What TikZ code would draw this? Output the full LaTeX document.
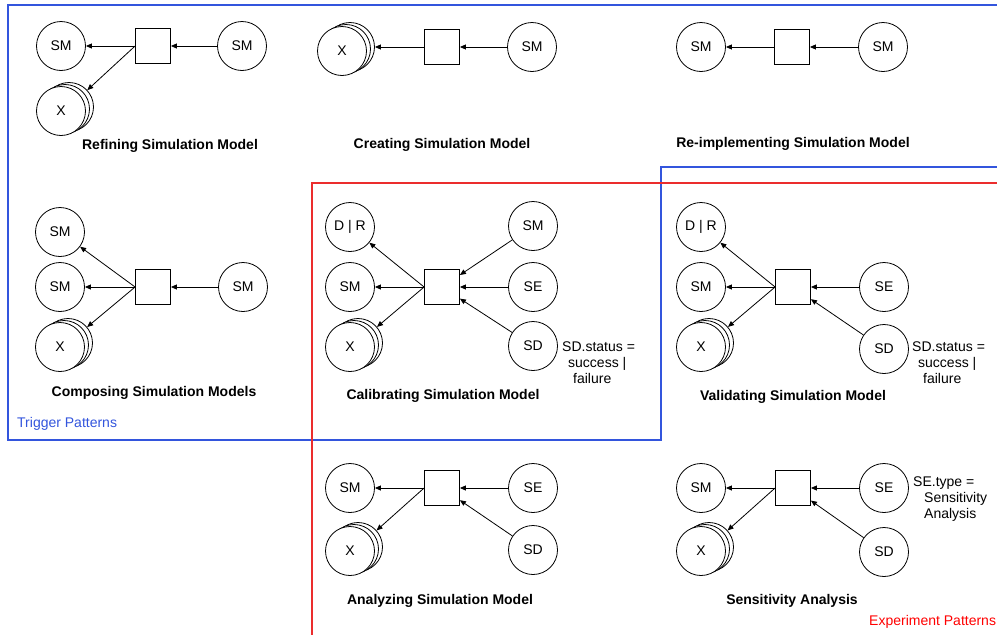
\documentclass[tikz,border=0pt]{standalone}
\usepackage{fontspec}
\setmainfont{Liberation Sans}
\usetikzlibrary{arrows.meta}
\definecolor{trigblue}{RGB}{51,85,221}
\definecolor{exred}{RGB}{235,45,45}
\newcommand{\mystack}[3]{%
  \node[ent] (#1r) at (#2+8,#3-4) {};
  \node[ent] (#1m) at (#2+4,#3-2) {};
  \node[ent] (#1) at (#2,#3) {X};
}
\tikzset{
  ent/.style={circle, draw, fill=white, minimum size=49pt, inner sep=0pt, line width=0.8pt, font=\fontsize{14}{16}\selectfont},
  proc/.style={rectangle, draw, fill=white, minimum size=35pt, inner sep=0pt, line width=0.8pt},
  flow/.style={-{Triangle[length=6pt,width=5pt]}, line width=0.8pt},
  ttl/.style={font=\fontsize{14}{16}\selectfont\bfseries, inner sep=0pt},
  note/.style={font=\fontsize{14}{16}\selectfont, align=left, anchor=north west, inner sep=0pt},
  frame/.style={line width=1.3pt}
}
\begin{document}
\begin{tikzpicture}[x=1pt,y=-1pt]
\useasboundingbox (0,0) rectangle (997,635);
\fill[white] (0,0) rectangle (997,635);

% frames
\draw[frame, trigblue] (1010,5) -- (8,5) -- (8,440) -- (661,440) -- (661,167) -- (1010,167);
\draw[frame, exred] (1010,183) -- (312,183) -- (312,650);
\node[font=\fontsize{14}{16}\selectfont, text=trigblue, anchor=west, inner sep=0pt] (trig) at (17,424) {Trigger Patterns};
\node[font=\fontsize{14}{16}\selectfont, text=red, anchor=west, inner sep=0pt] (expt) at (869,622) {Experiment Patterns};

% Panel 1: Refining
\node[ent] (smA) at (61,46) {SM};
\node[proc] (sqA) at (153,46) {};
\node[ent] (smA2) at (242,46) {SM};
\mystack{xA}{61}{111}
\draw[flow] (sqA.west) -- (smA);
\draw[flow] (sqA.west) -- (xAr);
\draw[flow] (smA2) -- (sqA);
\node[ttl] (tA) at (170,146) {Refining Simulation Model};

% Panel 2: Creating
\mystack{xB}{342}{51}
\node[proc] (sqB) at (442,47) {};
\node[ent] (smB) at (532,47) {SM};
\draw[flow] (sqB.west) -- (xBr);
\draw[flow] (smB) -- (sqB);
\node[ttl] (tB) at (442,145) {Creating Simulation Model};

% Panel 3: Re-implementing
\node[ent] (smC1) at (701,47) {SM};
\node[proc] (sqC) at (792,47) {};
\node[ent] (smC2) at (883,47) {SM};
\draw[flow] (sqC.west) -- (smC1);
\draw[flow] (smC2) -- (sqC);
\node[ttl] (tC) at (793,144) {Re-implementing Simulation Model};

% Panel 4: Composing
\node[ent] (smD1) at (60,232) {SM};
\node[ent] (smD2) at (60,287) {SM};
\mystack{xD}{60}{347}
\node[proc] (sqD) at (153,287) {};
\node[ent] (smD3) at (243,287) {SM};
\draw[flow] (sqD.west) -- (smD1);
\draw[flow] (sqD.west) -- (smD2);
\draw[flow] (sqD.west) -- (xDr);
\draw[flow] (smD3) -- (sqD);
\node[ttl] (tD) at (154,393) {Composing Simulation Models};

% Panel 5: Calibrating
\node[ent] (drE) at (350,227) {D | R};
\node[ent] (smE) at (350,287) {SM};
\mystack{xE}{350}{347}
\node[proc] (sqE) at (442,287) {};
\node[ent] (smE2) at (533,226) {SM};
\node[ent] (seE) at (533,287) {SE};
\node[ent] (sdE) at (533,346) {SD};
\draw[flow] (sqE.west) -- (drE);
\draw[flow] (sqE.west) -- (smE);
\draw[flow] (sqE.west) -- (xEr);
\draw[flow] (smE2) -- (sqE);
\draw[flow] (seE) -- (sqE);
\draw[flow] (sdE) -- (sqE);
\node[note] (nE) at (562,342) {SD.status =\\\hspace*{6pt}success |\\\hspace*{11pt}failure};
\node[ttl] (tE) at (443,396) {Calibrating Simulation Model};

% Panel 6: Validating
\node[ent] (drF) at (701,227) {D | R};
\node[ent] (smF) at (701,287) {SM};
\mystack{xF}{701}{347}
\node[proc] (sqF) at (793,287) {};
\node[ent] (seF) at (884,287) {SE};
\node[ent] (sdF) at (884,349) {SD};
\draw[flow] (sqF.west) -- (drF);
\draw[flow] (sqF.west) -- (smF);
\draw[flow] (sqF.west) -- (xFr);
\draw[flow] (seF) -- (sqF);
\draw[flow] (sdF) -- (sqF);
\node[note] (nF) at (912,342) {SD.status =\\\hspace*{6pt}success |\\\hspace*{11pt}failure};
\node[ttl] (tF) at (793,397) {Validating Simulation Model};

% Panel 7: Analyzing
\node[ent] (smG) at (350,488) {SM};
\mystack{xG}{350}{551}
\node[proc] (sqG) at (442,488) {};
\node[ent] (seG) at (533,488) {SE};
\node[ent] (sdG) at (533,550) {SD};
\draw[flow] (sqG.west) -- (smG);
\draw[flow] (sqG.west) -- (xGr);
\draw[flow] (seG) -- (sqG);
\draw[flow] (sdG) -- (sqG);
\node[ttl] (tG) at (440,601) {Analyzing Simulation Model};

% Panel 8: Sensitivity
\node[ent] (smH) at (701,488) {SM};
\mystack{xH}{701}{551}
\node[proc] (sqH) at (793,488) {};
\node[ent] (seH) at (884,488) {SE};
\node[ent] (sdH) at (884,552) {SD};
\draw[flow] (sqH.west) -- (smH);
\draw[flow] (sqH.west) -- (xHr);
\draw[flow] (seH) -- (sqH);
\draw[flow] (sdH) -- (sqH);
\node[note] (nH) at (913,477) {SE.type =\\\hspace*{11pt}Sensitivity\\\hspace*{11pt}Analysis};
\node[ttl] (tH) at (792,601) {Sensitivity Analysis};
\end{tikzpicture}
\end{document}
